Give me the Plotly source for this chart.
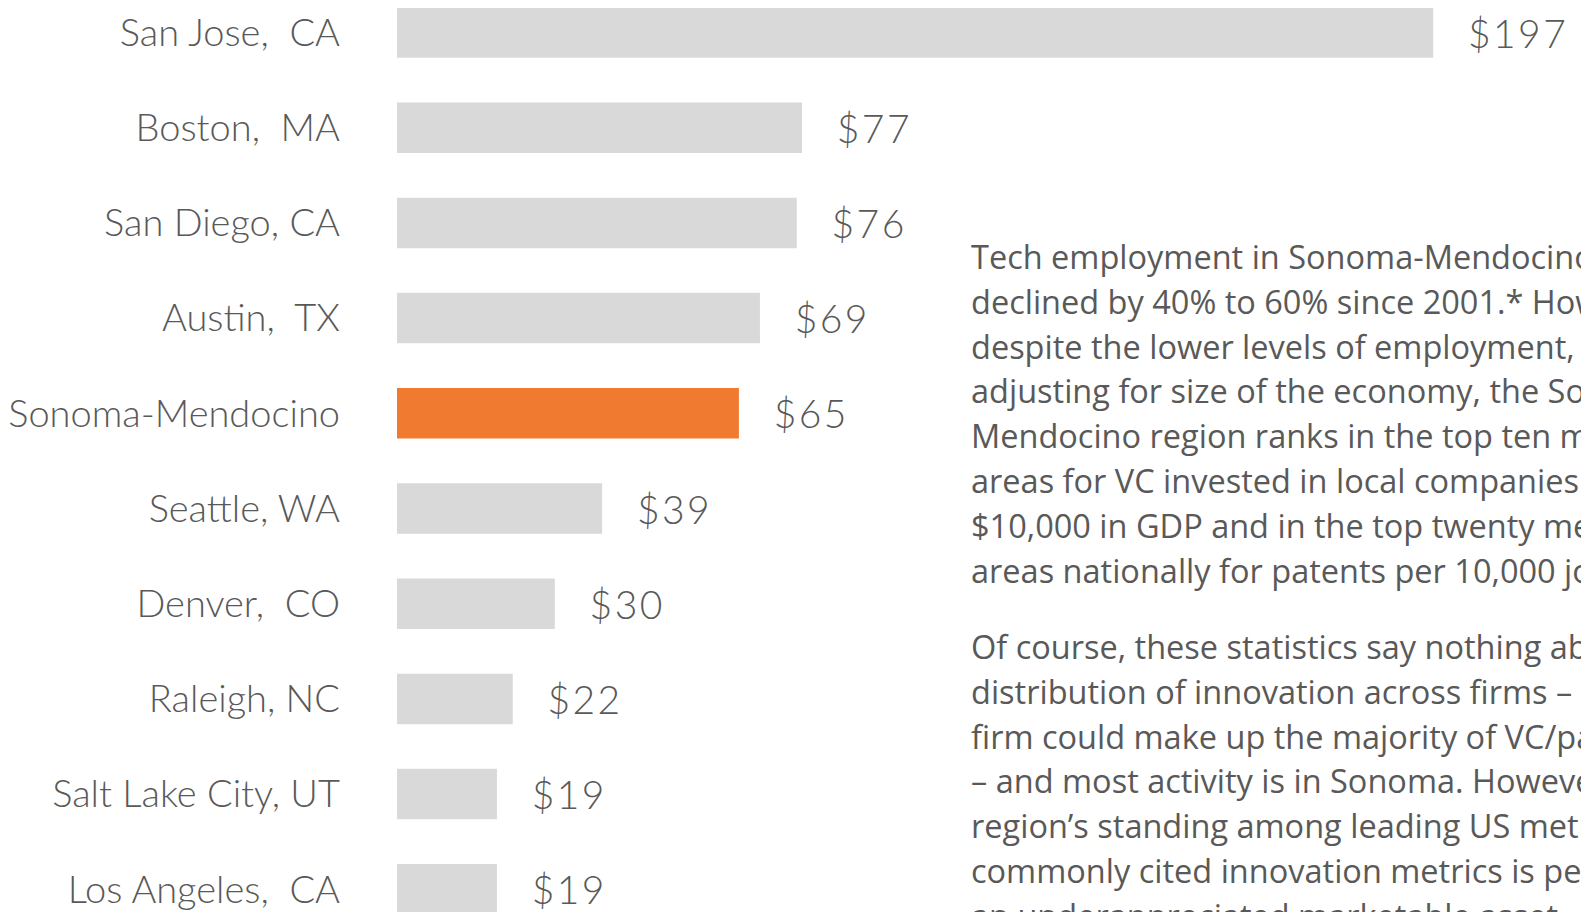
import plotly.graph_objects as go

cities = ["San Jose,  CA", "Boston,  MA", "San Diego, CA", "Austin,  TX", "Sonoma-Mendocino",
          "Seattle, WA", "Denver,  CO", "Raleigh, NC", "Salt Lake City, UT", "Los Angeles,  CA"]
values = [197, 77, 76, 69, 65, 39, 30, 22, 19, 19]
highlight = "Sonoma-Mendocino"

para1 = ["Tech employment in Sonoma-Mendocino has",
         "declined by 40% to 60% since 2001.* However,",
         "despite the lower levels of employment, when",
         "adjusting for size of the economy, the Sonoma-",
         "Mendocino region ranks in the top ten metro",
         "areas for VC invested in local companies per",
         "$10,000 in GDP and in the top twenty metro",
         "areas nationally for patents per 10,000 jobs."]
para2 = ["Of course, these statistics say nothing about the",
         "distribution of innovation across firms – i.e., one",
         "firm could make up the majority of VC/patents",
         "– and most activity is in Sonoma. However, the",
         "region’s standing among leading US metros in",
         "commonly cited innovation metrics is perhaps",
         "an underappreciated marketable asset."]

# page has an 8px body margin; figure sized so page coordinates match reference
OFF = 8
W, H = 1589 - OFF, 912 - OFF
colors = ["#F07A30" if c == highlight else "#D9D9D9" for c in cities]
NB = "\u00a0"
HS = "\u200a"

def money(v):
    return NB * 3 + HS.join("$" + str(v))

fig = go.Figure(go.Bar(
    x=values, y=cities, orientation="h",
    marker=dict(color=colors, line=dict(width=0)),
    width=0.53,
    text=[money(v) for v in values],
    textposition="outside",
    constraintext="none",
    cliponaxis=False,
    textfont=dict(family="Lato Light, Lato", size=39, color="#595959", weight=300),
))

px_per_unit = 5.26
left = 397 - OFF
fig.update_xaxes(range=[0, (W - left) / px_per_unit], visible=False, fixedrange=True)
pitch = 95.2
c0 = 32.5 - OFF
fig.update_yaxes(range=[(H - c0) / pitch, -c0 / pitch], showgrid=False, zeroline=False,
                 showline=False, ticks="", ticklabelstandoff=56,
                 tickfont=dict(family="Lato Light, Lato", size=38, color="#595959", weight=300))

def xp(px):
    return (px - OFF - left) / (W - left)

def yp(py):
    return 1 - (py - OFF) / H

anns = []
for i, line in enumerate(para1):
    anns.append(dict(text=line, x=xp(969), y=yp(256.4 + i * 44.8), xref="paper", yref="paper",
                     xanchor="left", yanchor="middle", showarrow=False,
                     font=dict(family="Open Sans", size=32.5, color="#595959")))
for i, line in enumerate(para2):
    anns.append(dict(text=line, x=xp(969), y=yp(646.5 + i * 44.8), xref="paper", yref="paper",
                     xanchor="left", yanchor="middle", showarrow=False,
                     font=dict(family="Open Sans", size=32.5, color="#595959")))

fig.update_layout(
    width=W, height=H,
    margin=dict(l=left, r=0, t=0, b=0, pad=0),
    plot_bgcolor="white", paper_bgcolor="white",
    showlegend=False, annotations=anns,
    bargap=0.47,
)
fig.write_html("out.html", config={"displayModeBar": False})
